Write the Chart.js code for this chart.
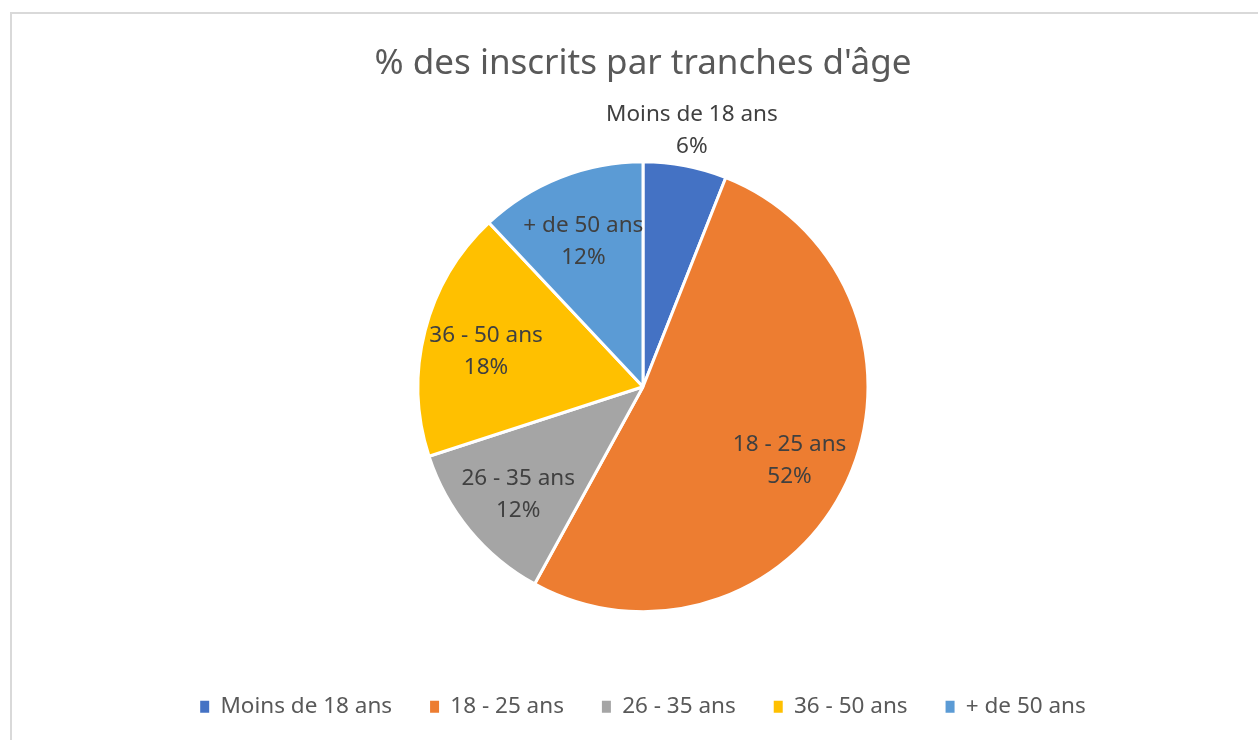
<!DOCTYPE html>
<html lang="fr">
<head>
<meta charset="utf-8">
<title>% des inscrits par tranches d'âge</title>
<script src="https://cdn.jsdelivr.net/npm/chart.js@4"></script>
<style>
  html, body { margin: 0; padding: 0; background: #fff; overflow: hidden; }
  .cadre { position: absolute; left: 10px; top: 12px; width: 1300px; height: 800px; border: 2px solid #d9d9d9; }
  .zone { position: absolute; left: 0; top: 0; width: 1258px; height: 740px; }
</style>
</head>
<body>
<div class="cadre"></div>
<div class="zone"><canvas id="pieChart"></canvas></div>
<script>
// données
var tranches = ["Moins de 18 ans", "18 - 25 ans", "26 - 35 ans", "36 - 50 ans", "+ de 50 ans"];
var pourcentages = [6, 52, 12, 18, 12];
var couleurs = ['#4472C4', '#ED7D31', '#A5A5A5', '#FFC000', '#5B9BD5'];

Chart.defaults.font.family = 'Noto Sans';

// étiquettes "catégorie / valeur" sur les parts
var etiquettes = {
  id: 'etiquettes',
  afterDatasetsDraw: function(chart) {
    var ctx = chart.ctx;
    var meta = chart.getDatasetMeta(0);
    var total = pourcentages.reduce(function(a, b) { return a + b; }, 0);
    ctx.save();
    ctx.font = '22.5px "Noto Sans"';
    ctx.fillStyle = '#404040';
    ctx.textAlign = 'center';
    ctx.textBaseline = 'middle';
    meta.data.forEach(function(arc, i) {
      var p = arc.getProps(['x', 'y', 'startAngle', 'endAngle', 'outerRadius'], true);
      var mid = (p.startAngle + p.endAngle) / 2;
      var part = pourcentages[i] / total;
      var dehors = part < 0.1;
      var dist = dehors ? p.outerRadius + 36 : p.outerRadius * 0.72;
      var x = p.x + Math.cos(mid) * dist;
      var y = p.y + Math.sin(mid) * dist + (dehors ? 0 : 5);
      ctx.fillText(tranches[i], x, y - 16);
      ctx.fillText(Math.round(part * 100) + '%', x, y + 16);
    });
    ctx.restore();
  }
};

var pieChart = document.getElementById("pieChart");
var myChart = new Chart(pieChart, {
  type: 'pie',
  data: {
    labels: tranches,
    datasets: [{
      label: '% des inscrits',
      data: pourcentages,
      backgroundColor: couleurs,
      borderColor: '#FFFFFF',
      borderWidth: 3,
    }]
  },
  plugins: [etiquettes],
  options: {
    responsive: true,
    maintainAspectRatio: false,
    animation: false,
    radius: 225,
    layout: {
      padding: {
        top: 0,
        bottom: 12,
        left: 28,
        right: 0,
      }
    },
    plugins: {
      title: {
        display: true,
        text: "% des inscrits par tranches d'âge",
        color: '#595959',
        font: { size: 35, weight: 'normal' },
        padding: { top: 43, bottom: 31 },
      },
      legend: {
        display: true,
        position: 'bottom',
        labels: {
          color: '#595959',
          font: { size: 22.5 },
          boxWidth: 9,
          boxHeight: 12,
          padding: 38,
          generateLabels: function(chart) {
            var items = Chart.controllers.pie.overrides.plugins.legend.labels.generateLabels(chart);
            items.forEach(function(item) { item.lineWidth = 0; });
            return items;
          }
        }
      },
      tooltip: {
        enabled: false,
      }
    },
    events: [],
  }
});
</script>
</body>
</html>
